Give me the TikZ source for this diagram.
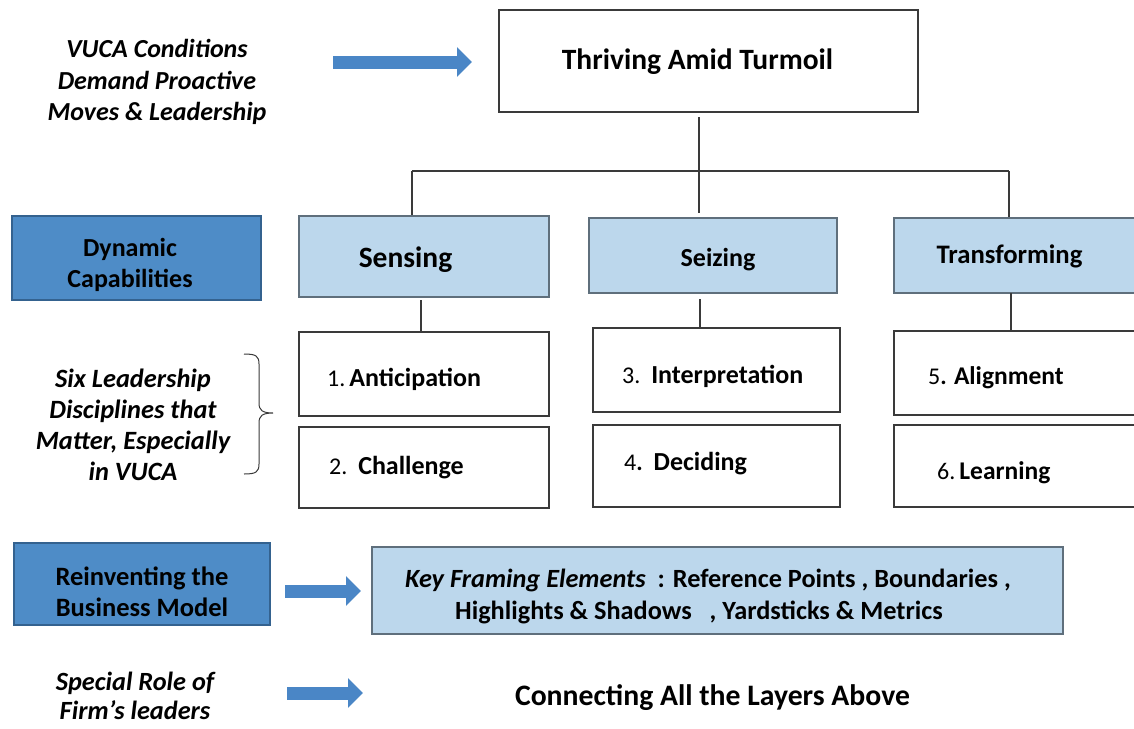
\documentclass[tikz,border=0pt]{standalone}
\usepackage{fontspec}
\setmainfont{Carlito}
\usetikzlibrary{arrows.meta}
\definecolor{darkbox}{HTML}{4E8CC7}
\definecolor{darkedge}{HTML}{34628F}
\definecolor{lightbox}{HTML}{BCD7EC}
\definecolor{lightedge}{HTML}{5F6F7C}
\definecolor{arrowblue}{HTML}{4A86C6}
\definecolor{linegray}{HTML}{3A3A3A}
\newcommand{\fs}[1]{\fontsize{#1}{#1}\selectfont}
\tikzset{
  whitebox/.style={draw=linegray, line width=1.2pt, fill=white, inner sep=0pt},
  lightblue/.style={draw=lightedge, line width=1.2pt, fill=lightbox, inner sep=0pt},
  darkblue/.style={draw=darkedge, line width=1.2pt, fill=darkbox, inner sep=0pt},
  txt/.style={inner sep=0pt, align=center, text=black},
  conn/.style={draw=linegray, line width=1.1pt},
  blockarrow/.style={draw=arrowblue, line width=13pt, -{Triangle[length=15pt,width=29pt]}, arrowblue},
}
\begin{document}
\begin{tikzpicture}[x=1pt,y=-1pt]
\useasboundingbox[fill=white] (0,0) rectangle (1134,728);

% top
\node[txt, font=\fs{26}\bfseries\itshape, align=center] (vuca) at (157,82)
  {VUCA Conditions\\[5.5pt] Demand Proactive\\[5.5pt] Moves \& Leadership};
\node[whitebox, minimum width=419pt, minimum height=102pt] (thr) at (708.5,61) {};
\node[txt, font=\fs{29.5}\bfseries] (thrt) at (697.5,62) {Thriving Amid Turmoil};
\coordinate (a1s) at (333,62);
\coordinate (a1e) at (472,62);
\draw[blockarrow] (a1s) -- (a1e);

% capability row
\node[darkblue, minimum width=249pt, minimum height=84pt] (dyn) at (136.5,258) {};
\node[txt, font=\fs{26}\bfseries] (dynt) at (130,265) {Dynamic\\[5pt] Capabilities};
\node[lightblue, minimum width=250pt, minimum height=81pt] (sen) at (424,256.5) {};
\node[txt, font=\fs{29.5}\bfseries] (sent) at (405.5,260) {Sensing};
\node[lightblue, minimum width=248pt, minimum height=75pt] (sei) at (713,255.5) {};
\node[txt, font=\fs{26}\bfseries] (seit) at (718,260) {Seizing};
\node[lightblue, minimum width=241pt, minimum height=75pt] (tra) at (1014.5,255.5) {};
\node[txt, font=\fs{26.7}\bfseries] (trat) at (1009.5,256) {Transforming};

% tree
\coordinate (hl) at (412,171);
\coordinate (hr) at (1009,171);
\coordinate (vt) at (699,117);
\coordinate (vb) at (699,213);
\draw[conn] (hl) -- (hr);
\draw[conn] (vt) -- (vb);
\draw[conn] (hl) -- (hl |- sen.north);
\draw[conn] (hr) -- (hr |- tra.north);

% discipline boxes
\node[whitebox, minimum width=250pt, minimum height=84pt] (ant) at (424,374) {};
\node[txt, font=\fs{26}, anchor=west] (antt) at (327,379) {\fs{24}1.\,\fs{26}\textbf{Anticipation}};
\node[whitebox, minimum width=250pt, minimum height=81pt] (cha) at (424,467.5) {};
\node[txt, font=\fs{26}, anchor=west] (chat) at (329,468) {\fs{24}2.\ \ \fs{26}\textbf{Challenge}};
\node[whitebox, minimum width=247pt, minimum height=84pt] (int) at (716.5,370) {};
\node[txt, font=\fs{26}, anchor=west] (intt) at (622,376) {\fs{24}3.\ \ \fs{26}\textbf{Interpretation}};
\node[whitebox, minimum width=247pt, minimum height=82pt] (dec) at (716.5,466) {};
\node[txt, font=\fs{26}, anchor=west] (dect) at (624,464) {\fs{24}4\textbf{.\ \ \fs{26}Deciding}};
\node[whitebox, minimum width=241pt, minimum height=84pt] (ali) at (1014.5,373) {};
\node[txt, font=\fs{25.5}, anchor=west] (alit) at (928,378) {\fs{24}5\textbf{. \fs{25.5}Alignment}};
\node[whitebox, minimum width=241pt, minimum height=82pt] (lea) at (1014.5,466) {};
\node[txt, font=\fs{25.5}, anchor=west] (leat) at (937,473) {\fs{24}6.\,\fs{25.5}\textbf{Learning}};

\draw[conn] (421,300) -- (421,333);
\draw[conn] (700,299) -- (700,328);
\draw[conn] (1011,293) -- (1011,331);

% six leadership
\node[txt, font=\fs{26.4}\bfseries\itshape] (six) at (133,425)
  {Six Leadership\\[4.6pt] Disciplines that\\[4.6pt] Matter, Especially\\[4.6pt] in VUCA};
\coordinate (bt) at (244,354);
\coordinate (bb) at (244,474);
\coordinate (btip) at (273,413);
\draw[conn, line width=1pt] (bt) .. controls (256,354) and (259,356) .. (259,364) -- (259,403)
  .. controls (259,410) and (262,413) .. (btip)
  .. controls (262,413) and (259,416) .. (259,423) -- (259,464)
  .. controls (259,472) and (256,474) .. (bb);

% business model
\node[darkblue, minimum width=256pt, minimum height=82pt] (rei) at (142,584) {};
\node[txt, font=\fs{26.5}\bfseries] (reit) at (142,592) {Reinventing the\\[4.5pt] Business Model};
\node[lightblue, minimum width=691pt, minimum height=87pt] (key) at (717.5,590.5) {};
\node[txt, font=\fs{26.3}\bfseries, align=left, anchor=west] (keyt) at (405,596)
  {\textit{Key Framing Elements}\ \ : Reference Points , Boundaries ,\\[5.7pt]
   \hspace{50pt}Highlights \& Shadows\ \ \ , Yardsticks \& Metrics};
\coordinate (a2s) at (285,591);
\coordinate (a2e) at (361,591);
\draw[blockarrow] (a2s) -- (a2e);

% leaders
\node[txt, font=\fs{26.3}\bfseries\itshape] (spe) at (135,696) {Special Role of\\[2pt] Firm’s leaders};
\coordinate (a3s) at (287,693);
\coordinate (a3e) at (363,693);
\draw[blockarrow] (a3s) -- (a3e);
\node[txt, font=\fs{29.7}\bfseries] (conn) at (712.5,698) {Connecting All the Layers Above};
\end{tikzpicture}
\end{document}
